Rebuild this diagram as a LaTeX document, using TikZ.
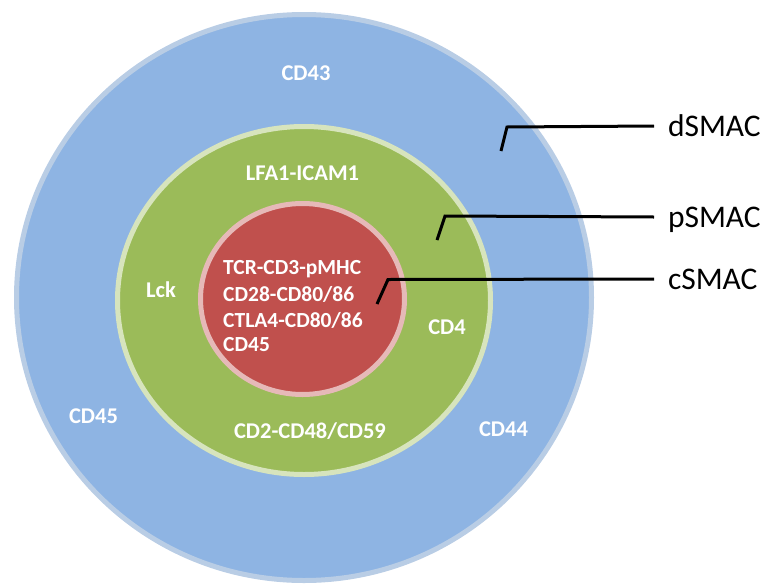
\documentclass[tikz,border=0pt]{standalone}
\usepackage{fontspec}
\setmainfont{Carlito}
\usepackage{tikz}
\usetikzlibrary{shapes.geometric}

\definecolor{dfill}{HTML}{8EB4E3}
\definecolor{drim}{HTML}{B9CDE5}
\definecolor{pfill}{HTML}{9BBB59}
\definecolor{prim}{HTML}{D7E4BD}
\definecolor{cfill}{HTML}{C0504D}
\definecolor{crim}{HTML}{E6B9B8}

\tikzset{
  zone/.style 2 args={
    ellipse, draw=#2, fill=#1, line width=5pt, inner sep=0pt
  },
  mol/.style={
    text=white, inner sep=0pt,
    font=\fontsize{22.5}{27}\selectfont\bfseries
  },
  smac/.style={
    font=\fontsize{31.5}{36}\selectfont, text height=20pt, text depth=0pt,
    inner sep=0pt, outer xsep=14pt, anchor=west
  },
  leader/.style={
    line width=3pt, color=black
  },
}

\begin{document}
\begin{tikzpicture}[x=1pt, y=-1pt]
  \useasboundingbox (0,0) rectangle (766,584);

  %% Synapse zones, outer to inner
  \node[zone={dfill}{drim}, minimum width=575pt, minimum height=566pt] (dsmac) at (304,297.5) {};
  \node[zone={pfill}{prim}, minimum width=373pt, minimum height=348pt] (psmac) at (304,300.5) {};
  \node[zone={cfill}{crim}, minimum width=204pt, minimum height=191pt] (csmac) at (302.5,299) {};

  %% Molecules in the distal ring
  \node[mol] (cd43) at (306,73) {CD43};
  \node[mol] (cd45o) at (93.5,416) {CD45};
  \node[mol] (cd44) at (503.5,429.5) {CD44};

  %% Molecules in the peripheral ring
  \node[mol] (lfa) at (302.5,173) {LFA1-ICAM1};
  \node[mol] (lck) at (161,290) {Lck};
  \node[mol] (cd4) at (447,327) {CD4};
  \node[mol] (cd2) at (310,431) {CD2-CD48/CD59};

  %% Molecules in the central cluster
  \node[mol, font=\fontsize{21.5}{26.5}\selectfont\bfseries, align=left, anchor=north west] (core) at (223,260.5)
    {TCR-CD3-pMHC\\CD28-CD80/86\\CTLA4-CD80/86\\[-3pt]CD45};

  %% Zone names and their leaders
  \node[smac] (dlab) at (654,126) {dSMAC};
  \node[smac] (plab) at (654,217) {pSMAC};
  \node[smac] (clab) at (654,279) {cSMAC};

  \coordinate (dknee) at (507,127);
  \coordinate (dtip) at (501,151);
  \coordinate (pknee) at (445,216);
  \coordinate (ptip) at (437,240);
  \coordinate (cknee) at (388,279.5);
  \coordinate (ctip) at (377,304);

  \draw[leader] (dlab.west) -- (dknee) -- (dtip);
  \draw[leader] (plab.west) -- (pknee) -- (ptip);
  \draw[leader] (clab.west) -- (cknee) -- (ctip);

\end{tikzpicture}
\end{document}
